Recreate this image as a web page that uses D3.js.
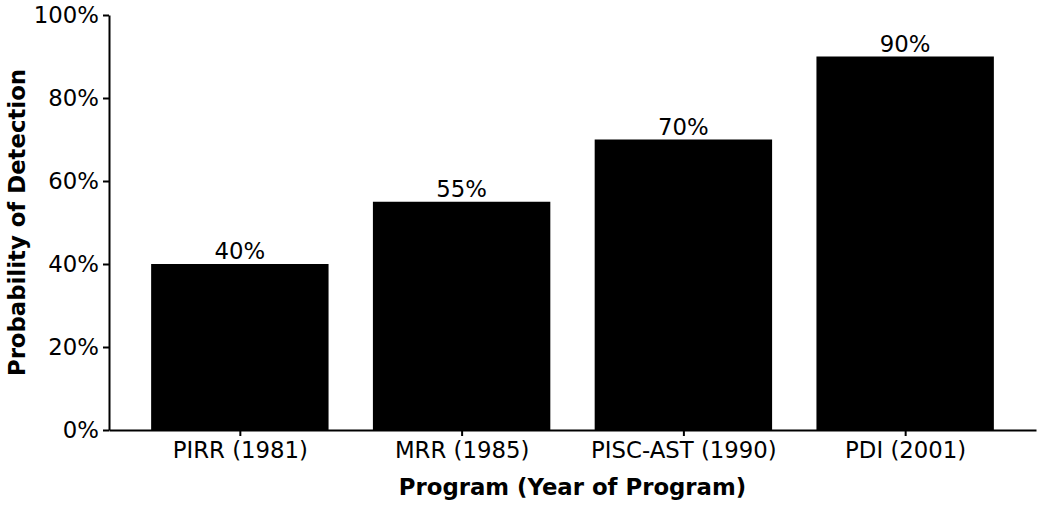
<!DOCTYPE html>
<html lang="en">
<head>
  <meta charset="UTF-8">
  <title>Probability of Detection</title>
  <script src="https://cdn.jsdelivr.net/npm/d3@7"></script>
  <style>
    body { margin: 0; background: #fff; }
    svg text { font-family: "DejaVu Sans", sans-serif; fill: #000; }
  </style>
</head>
<body>
<div id="grafica"></div>
<script>
// data
const programs = ['PIRR (1981)', 'MRR (1985)', 'PISC-AST (1990)', 'PDI (2001)']
const detection = [40, 55, 70, 90]
const yTicks = [0, 20, 40, 60, 80, 100]

const ancho_total = 1044
const alto_total = 505
const margin = { left: 109, right: 8, top: 15, bottom: 75 }
const ancho = ancho_total - margin.left - margin.right
const alto = alto_total - margin.top - margin.bottom
const fs = '22.8px'

const svg = d3.select('#grafica')
  .append('svg')
  .attr('width', ancho_total)
  .attr('height', alto_total)

const g = svg.append('g')
  .attr('transform', `translate(${margin.left},${margin.top})`)

// matplotlib-like positions: bars at 0..n-1, width 0.8, 5% margins
const n = programs.length
const pad = (n - 1 + 0.8) * 0.05
const x = d3.scaleLinear()
  .domain([-0.4 - pad, n - 1 + 0.4 + pad])
  .range([0, ancho])
const y = d3.scaleLinear().domain([0, 100]).range([alto, 0])

// bars
g.selectAll('rect.bar')
  .data(detection)
  .join('rect')
  .attr('class', 'bar')
  .attr('x', (d, i) => x(i - 0.4))
  .attr('width', x(0.8) - x(0))
  .attr('y', d => y(d))
  .attr('height', d => alto - y(d))
  .attr('fill', '#000')

// value labels
g.selectAll('text.val')
  .data(detection)
  .join('text')
  .attr('class', 'val')
  .attr('x', (d, i) => x(i))
  .attr('y', d => y(d) - 5)
  .attr('text-anchor', 'middle')
  .style('font-size', fs)
  .text(d => d + '%')

// axes
const xAxis = g.append('g')
  .attr('transform', `translate(0,${alto})`)
  .call(d3.axisBottom(x)
    .tickValues(d3.range(n))
    .tickFormat(i => programs[i])
    .tickSize(6)
    .tickPadding(6)
    .tickSizeOuter(0))
const yAxis = g.append('g')
  .call(d3.axisLeft(y)
    .tickValues(yTicks)
    .tickFormat(d => d + '%')
    .tickSize(6)
    .tickPadding(4)
    .tickSizeOuter(0))

;[xAxis, yAxis].forEach(ax => {
  ax.selectAll('path, line').attr('stroke', '#000').attr('stroke-width', 2)
  ax.selectAll('text')
    .style('font-size', fs)
    .style('font-family', '"DejaVu Sans", sans-serif')
    .attr('fill', '#000')
})

// axis titles
svg.append('text')
  .attr('x', margin.left + ancho / 2)
  .attr('y', 495)
  .attr('text-anchor', 'middle')
  .style('font-size', fs)
  .style('font-weight', 'bold')
  .text('Program (Year of Program)')

svg.append('text')
  .attr('transform', `translate(25,${margin.top + alto / 2}) rotate(-90)`)
  .attr('text-anchor', 'middle')
  .style('font-size', fs)
  .style('font-weight', 'bold')
  .text('Probability of Detection')
</script>
</body>
</html>
